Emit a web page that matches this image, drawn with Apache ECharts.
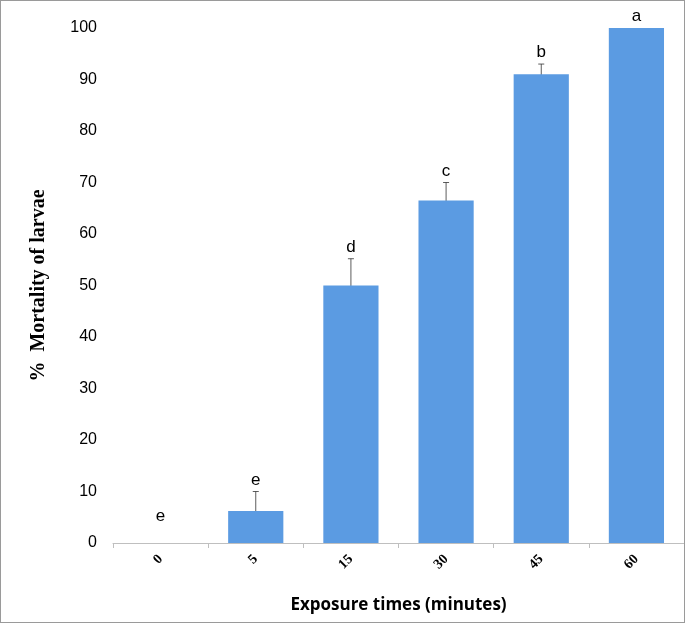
<!DOCTYPE html>
<html><head><meta charset="utf-8">
<script src="https://cdn.jsdelivr.net/npm/echarts@6/dist/echarts.min.js"></script>
<style>
html,body{margin:0;padding:0;background:#fff;}
#chart{width:683px;height:621px;border:1px solid #9a9a9a;}
</style></head>
<body><div id="chart"></div>
<script>
const categories = ["0", "5", "15", "30", "45", "60"];
const mortality = [0, 6.2, 50, 66.5, 91, 100];
const errLow = [0, 2.7, 44.8, 63.2, 89, 100];
const errHigh = [0, 10, 55.2, 70, 93, 100];
const letters = ["e", "e", "d", "c", "b", "a"];

const chart = echarts.init(document.getElementById("chart"));
chart.setOption({
    animation: false,
    grid: {left: 112, right: 0, top: 27, bottom: 79},
    xAxis: {
        type: "category",
        data: categories,
        axisLine: {lineStyle: {color: "#bfbfbf"}},
        axisTick: {show: true, alignWithLabel: false, lineStyle: {color: "#bfbfbf"}},
        axisLabel: {rotate: 45, margin: 14, color: "#000", fontFamily: "Liberation Serif", fontWeight: "bold", fontSize: 14},
        name: "Exposure times (minutes)",
        nameLocation: "middle",
        nameGap: 54,
        nameTextStyle: {color: "#000", fontFamily: "Open Sans", fontWeight: "bold", fontSize: 17}
    },
    yAxis: {
        type: "value",
        min: 0, max: 100, interval: 10,
        axisLine: {show: false},
        splitLine: {show: false},
        axisLabel: {color: "#000", fontFamily: "Liberation Sans", fontSize: 16, margin: 16},
        name: "%  Mortality of larvae",
        nameLocation: "middle",
        nameGap: 64,
        nameTextStyle: {color: "#000", fontFamily: "Liberation Serif", fontWeight: "bold", fontSize: 20}
    },
    series: [
        {
            type: "bar",
            data: mortality,
            barWidth: "58%",
            itemStyle: {color: "#5b9be2"}
        },
        {
            type: "custom",
            data: categories.map((c, i) => [i, errLow[i], errHigh[i]]),
            renderItem: (params, api) => {
                const lo = api.coord([api.value(0), api.value(1)]);
                const hi = api.coord([api.value(0), api.value(2)]);
                const x = lo[0];
                const topY = api.value(2) === 0 ? api.coord([0, 3])[1] : hi[1];
                const children = [];
                if (api.value(2) > api.value(1)) {
                    const s = {stroke: "#333", lineWidth: 0.8};
                    children.push({type: "line", shape: {x1: x, y1: lo[1], x2: x, y2: hi[1]}, style: s});
                    children.push({type: "line", shape: {x1: x - 3, y1: lo[1], x2: x + 3, y2: lo[1]}, style: s});
                    children.push({type: "line", shape: {x1: x - 3, y1: hi[1], x2: x + 3, y2: hi[1]}, style: s});
                }
                children.push({
                    type: "text",
                    style: {x: x, y: topY - 3, text: letters[params.dataIndex], align: "center", verticalAlign: "bottom",
                        fill: "#000", font: "17px Liberation Sans"}
                });
                return {type: "group", children: children};
            }
        }
    ]
});
</script></body></html>
